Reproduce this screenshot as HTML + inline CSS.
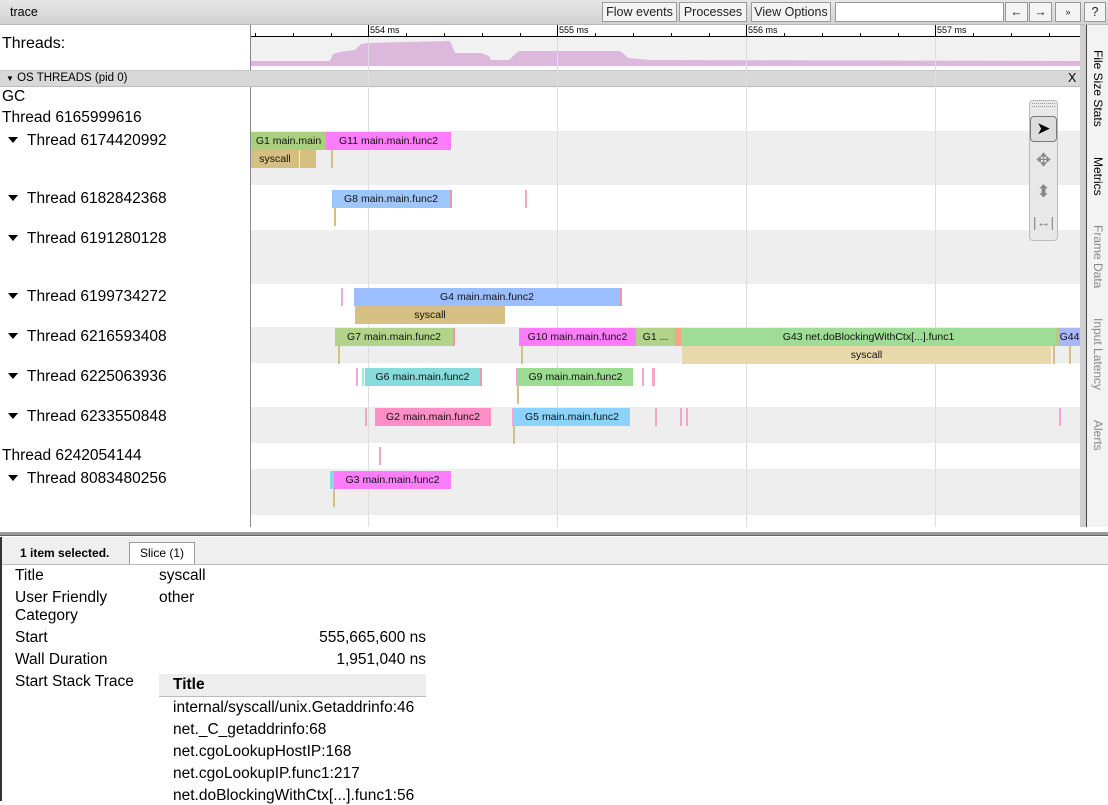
<!DOCTYPE html>
<html><head><meta charset="utf-8"><style>
*{box-sizing:border-box;margin:0;padding:0}
body{width:1108px;height:801px;overflow:hidden;background:#fff;font-family:"Liberation Sans",Arial,sans-serif;position:relative;color:#000}
.a{position:absolute}
.btn{position:absolute;top:2px;height:20px;border:1px solid #999;background:#f4f4f4;font-size:12.5px;line-height:18px;text-align:center;color:#222}
.lbl{position:absolute;left:0;font-size:15.5px;white-space:nowrap}
.tri{display:inline-block;width:0;height:0;border-left:5px solid transparent;border-right:5px solid transparent;border-top:6px solid #000;margin:0 9px 2px 8px;vertical-align:middle}
.s{position:absolute;height:18px;font-size:10.5px;line-height:18px;text-align:center;white-space:nowrap;overflow:hidden;color:#111}
.t{position:absolute;width:2px;height:18px}
.side{position:absolute;left:1088px;width:20px;font-size:12px;writing-mode:vertical-rl;white-space:nowrap;line-height:20px;text-align:left}
.row{position:absolute;left:15px;font-size:15.5px}
.val{position:absolute;left:159px;font-size:15.5px}
.num{position:absolute;right:682px;font-size:15.5px}
.st{position:absolute;left:173px;font-size:15.5px}
</style></head><body>
<!-- header -->
<div class="a" style="left:0;top:0;width:1108px;height:25px;background:linear-gradient(#e6e6e6,#d2d2d2);border-bottom:1px solid #b8b8b8"></div>
<div class="a" style="left:10px;top:5px;font-size:12.5px">trace</div>
<div class="btn" style="left:602px;width:75px">Flow events</div>
<div class="btn" style="left:679px;width:68px">Processes</div>
<div class="btn" style="left:751px;width:80px">View Options</div>
<div class="btn" style="left:835px;width:169px;background:#fff"></div>
<div class="btn" style="left:1005px;width:23px">←</div>
<div class="btn" style="left:1029px;width:23px">→</div>
<div class="btn" style="left:1055px;width:26px;font-size:9px">»</div>
<div class="btn" style="left:1084px;width:22px">?</div>

<!-- left panel bg -->
<div class="a" style="left:0;top:25px;width:250px;height:507px;background:#fff"></div>
<div class="a" style="left:250px;top:25px;width:1px;height:507px;background:#888"></div>
<!-- ruler -->
<div class="a" style="left:251px;top:36px;width:829px;height:1px;background:#000"></div>
<svg class="a" style="left:251px;top:25px" width="829" height="45">
<rect x="0" y="12" width="829" height="29" fill="#f1f1f1"/>
<g stroke="#000" stroke-width="1">
<line x1="117.5" y1="0" x2="117.5" y2="12"/><line x1="306.5" y1="0" x2="306.5" y2="12"/><line x1="495.5" y1="0" x2="495.5" y2="12"/><line x1="684.5" y1="0" x2="684.5" y2="12"/>
</g>
<g stroke="#000"><line x1="4.5" y1="8" x2="4.5" y2="12"/><line x1="42.5" y1="8" x2="42.5" y2="12"/><line x1="80.5" y1="8" x2="80.5" y2="12"/><line x1="155.5" y1="8" x2="155.5" y2="12"/><line x1="193.5" y1="8" x2="193.5" y2="12"/><line x1="231.5" y1="8" x2="231.5" y2="12"/><line x1="269.5" y1="8" x2="269.5" y2="12"/><line x1="344.5" y1="8" x2="344.5" y2="12"/><line x1="382.5" y1="8" x2="382.5" y2="12"/><line x1="420.5" y1="8" x2="420.5" y2="12"/><line x1="458.5" y1="8" x2="458.5" y2="12"/><line x1="533.5" y1="8" x2="533.5" y2="12"/><line x1="571.5" y1="8" x2="571.5" y2="12"/><line x1="609.5" y1="8" x2="609.5" y2="12"/><line x1="647.5" y1="8" x2="647.5" y2="12"/><line x1="722.5" y1="8" x2="722.5" y2="12"/><line x1="760.5" y1="8" x2="760.5" y2="12"/><line x1="798.5" y1="8" x2="798.5" y2="12"/></g>
<g font-family="Liberation Sans" font-size="9" fill="#000"><text x="119" y="8">554 ms</text><text x="308" y="8">555 ms</text><text x="497" y="8">556 ms</text><text x="686" y="8">557 ms</text></g>
<polygon fill="#dcb8dd" points="0,41 0,36 79,36 82,29 89,27 104,25 110,19 117,18 199,16 204,28 230,28 238,31 240,35 258,35 264,29 268,26 369,26 374,30 377,33 400,35 829,36 829,41"/>
</svg>
<div class="lbl" style="top:35px;left:2px;font-size:16px">Threads:</div>
<!-- OS threads bar -->
<div class="a" style="left:0;top:70px;width:1080px;height:17px;background:#d8d8d8;border-top:1px solid #c6c6c6;border-bottom:1px solid #bbb"></div>
<div class="a" style="left:6px;top:72px;font-size:11.5px"><span style="font-size:8px">▼</span> OS THREADS (pid 0)</div>
<div class="a" style="left:1068px;top:71px;font-size:12.5px">X</div>

<!-- row backgrounds -->
<div class="a" style="left:251px;top:88px;width:829px;height:444px;background:#fff"></div>
<div class="a" style="left:251px;top:131px;width:829px;height:54px;background:#eee"></div>
<div class="a" style="left:251px;top:230px;width:829px;height:54px;background:#eee"></div>
<div class="a" style="left:251px;top:327px;width:829px;height:36px;background:#eee"></div>
<div class="a" style="left:251px;top:407px;width:829px;height:36px;background:#eee"></div>
<div class="a" style="left:251px;top:469px;width:829px;height:46px;background:#eee"></div>
<!-- grid lines -->
<div class="a" style="left:368px;top:37px;width:1px;height:490px;background:#ddd"></div>
<div class="a" style="left:557px;top:37px;width:1px;height:490px;background:#ddd"></div>
<div class="a" style="left:746px;top:37px;width:1px;height:490px;background:#ddd"></div>
<div class="a" style="left:935px;top:37px;width:1px;height:490px;background:#ddd"></div>
<div class="a" style="left:1080px;top:25px;width:7px;height:507px;background:#cfcfcf"></div>

<!-- labels -->
<div class="lbl" style="top:88px;left:2px">GC</div>
<div class="lbl" style="top:109px;left:2px">Thread 6165999616</div>
<div class="lbl" style="top:132px"><span class="tri"></span>Thread 6174420992</div>
<div class="lbl" style="top:190px"><span class="tri"></span>Thread 6182842368</div>
<div class="lbl" style="top:230px"><span class="tri"></span>Thread 6191280128</div>
<div class="lbl" style="top:288px"><span class="tri"></span>Thread 6199734272</div>
<div class="lbl" style="top:328px"><span class="tri"></span>Thread 6216593408</div>
<div class="lbl" style="top:368px"><span class="tri"></span>Thread 6225063936</div>
<div class="lbl" style="top:408px"><span class="tri"></span>Thread 6233550848</div>
<div class="lbl" style="top:447px;left:2px">Thread 6242054144</div>
<div class="lbl" style="top:470px"><span class="tri"></span>Thread 8083480256</div>

<!-- slices -->
<div class="s" style="left:251px;top:132px;width:75px;background:#a9d07f">G1 main.main</div>
<div class="s" style="left:326px;top:132px;width:125px;background:#fc7cf9">G11 main.main.func2</div>
<div class="s" style="left:251px;top:150px;width:48px;background:#d6bf82">syscall</div>
<div class="s" style="left:299px;top:150px;width:17px;background:#d6bf82;border-left:1px solid #eee"></div>
<div class="t" style="left:331px;top:150px;background:#d6bf82"></div>

<div class="s" style="left:332px;top:190px;width:120px;background:#9dc6fb;border-right:2px solid #e9a"> G8 main.main.func2</div>
<div class="t" style="left:525px;top:190px;background:#f2a5c7"></div>
<div class="t" style="left:334px;top:208px;background:#d6bf82"></div>

<div class="t" style="left:341px;top:288px;background:#f5a3dd"></div>
<div class="s" style="left:354px;top:288px;width:268px;background:#9abeff;border-right:2px solid #e9a">G4 main.main.func2</div>
<div class="s" style="left:355px;top:306px;width:150px;background:#d6bf82">syscall</div>

<div class="s" style="left:335px;top:328px;width:120px;background:#b1d48a;border-right:2px solid #e9a">G7 main.main.func2</div>
<div class="t" style="left:338px;top:346px;background:#d6bf82"></div>
<div class="s" style="left:519px;top:328px;width:117px;background:#fc7cf9">G10 main.main.func2</div>
<div class="s" style="left:636px;top:328px;width:39px;background:#b1d48a">G1 ...</div>
<div class="s" style="left:675px;top:328px;width:6px;background:#f4a584"></div>
<div class="s" style="left:681px;top:328px;width:375px;background:#9edd95">G43 net.doBlockingWithCtx[...].func1</div>
<div class="s" style="left:1056px;top:328px;width:3px;background:#b8c98a"></div>
<div class="s" style="left:1059px;top:328px;width:21px;background:#a8b6ff">G44</div>
<div class="s" style="left:682px;top:346px;width:369px;background:#e8d8aa">syscall</div>
<div class="t" style="left:1053px;top:346px;background:#d6bf82"></div>
<div class="t" style="left:1069px;top:346px;background:#d6bf82"></div>
<div class="t" style="left:521px;top:346px;background:#d6bf82"></div>

<div class="t" style="left:356px;top:368px;background:#f5a3dd"></div>
<div class="t" style="left:362px;top:368px;background:#9ed"></div>
<div class="s" style="left:365px;top:368px;width:117px;background:#86dbdc;border-right:2px solid #e9a">G6 main.main.func2</div>
<div class="s" style="left:516px;top:368px;width:117px;background:#9cdc90;border-left:2px solid #f5a3dd">G9 main.main.func2</div>
<div class="t" style="left:517px;top:386px;background:#d6bf82"></div>
<div class="t" style="left:642px;top:368px;background:#f2a5c7"></div>
<div class="t" style="left:652px;top:368px;width:3px;background:#f2a5c7"></div>

<div class="t" style="left:365px;top:408px;background:#f2a5c7"></div>
<div class="s" style="left:375px;top:408px;width:116px;background:#fd8fc6">G2 main.main.func2</div>
<div class="s" style="left:512px;top:408px;width:118px;background:#8cd3fb;border-left:2px solid #f5a3dd">G5 main.main.func2</div>
<div class="t" style="left:513px;top:426px;background:#d6bf82"></div>
<div class="t" style="left:655px;top:408px;background:#f2a5c7"></div>
<div class="t" style="left:680px;top:408px;background:#f2a5c7"></div>
<div class="t" style="left:686px;top:408px;background:#f2a5c7"></div>
<div class="t" style="left:1059px;top:408px;background:#f5a3dd"></div>

<div class="t" style="left:379px;top:447px;background:#f2a5c7"></div>

<div class="s" style="left:330px;top:471px;width:4px;background:#86dbdc"></div>
<div class="s" style="left:334px;top:471px;width:117px;background:#fc7cf9">G3 main.main.func2</div>
<div class="t" style="left:333px;top:489px;background:#d6bf82"></div>

<!-- tool panel -->
<div class="a" style="left:1029px;top:100px;width:29px;height:141px;background:#e8e8e8;border:1px solid #bbb;border-radius:4px"></div>
<div class="a" style="left:1032px;top:103px;width:23px;height:4px;border-top:1px dotted #999;border-bottom:1px dotted #999"></div>
<div class="a" style="left:1030px;top:116px;width:27px;height:26px;background:#ddd;border:1px solid #777;border-radius:4px;font-size:17px;text-align:center;line-height:24px">➤</div>
<div class="a" style="left:1031px;top:150px;width:25px;font-size:18px;color:#888;text-align:center">✥</div>
<div class="a" style="left:1031px;top:182px;width:25px;font-size:17px;color:#888;text-align:center">⬍</div>
<div class="a" style="left:1031px;top:214px;width:25px;font-size:14px;color:#888;text-align:center">|↔|</div>

<!-- sidebar -->
<div class="a" style="left:1086px;top:25px;width:1px;height:508px;background:#444"></div>
<div class="a" style="left:1087px;top:25px;width:21px;height:508px;background:#f3f3f3"></div>
<div class="side" style="top:50px;color:#000">File Size Stats</div>
<div class="side" style="top:157px;color:#000">Metrics</div>
<div class="side" style="top:225px;color:#888">Frame Data</div>
<div class="side" style="top:318px;color:#888">Input Latency</div>
<div class="side" style="top:420px;color:#888">Alerts</div>

<!-- bottom panel -->
<div class="a" style="left:0;top:527px;width:1108px;height:6px;background:#fff"></div>
<div class="a" style="left:0;top:532px;width:1108px;height:4px;background:#999;border-bottom:1px solid #666"></div>
<div class="a" style="left:0;top:537px;width:1108px;height:27px;background:#efefef"></div>
<div class="a" style="left:20px;top:546px;font-size:12px;font-weight:bold">1 item selected.</div>
<div class="a" style="left:129px;top:542px;width:66px;height:23px;background:#fff;border:1px solid #999;border-bottom:none;font-size:12px;text-align:center;line-height:21px">Slice (1)</div>
<div class="a" style="left:0;top:564px;width:1108px;height:237px;background:#fff;border-top:1px solid #bbb"></div>
<div class="a" style="left:0;top:537px;width:2px;height:264px;background:#333"></div>
<div class="row" style="top:567px">Title</div><div class="val" style="top:567px">syscall</div>
<div class="row" style="top:589px;line-height:18px">User Friendly<br>Category</div><div class="val" style="top:589px">other</div>
<div class="row" style="top:629px">Start</div><div class="num" style="top:629px">555,665,600 ns</div>
<div class="row" style="top:651px">Wall Duration</div><div class="num" style="top:651px">1,951,040 ns</div>
<div class="row" style="top:673px">Start Stack Trace</div>
<div class="a" style="left:159px;top:674px;width:267px;height:23px;background:#eee;border-bottom:1px solid #bbb"></div>
<div class="st" style="top:676px;font-weight:bold">Title</div>
<div class="st" style="top:699px">internal/syscall/unix.Getaddrinfo:46</div>
<div class="st" style="top:721px">net._C_getaddrinfo:68</div>
<div class="st" style="top:743px">net.cgoLookupHostIP:168</div>
<div class="st" style="top:765px">net.cgoLookupIP.func1:217</div>
<div class="st" style="top:787px">net.doBlockingWithCtx[...].func1:56</div>
</body></html>
